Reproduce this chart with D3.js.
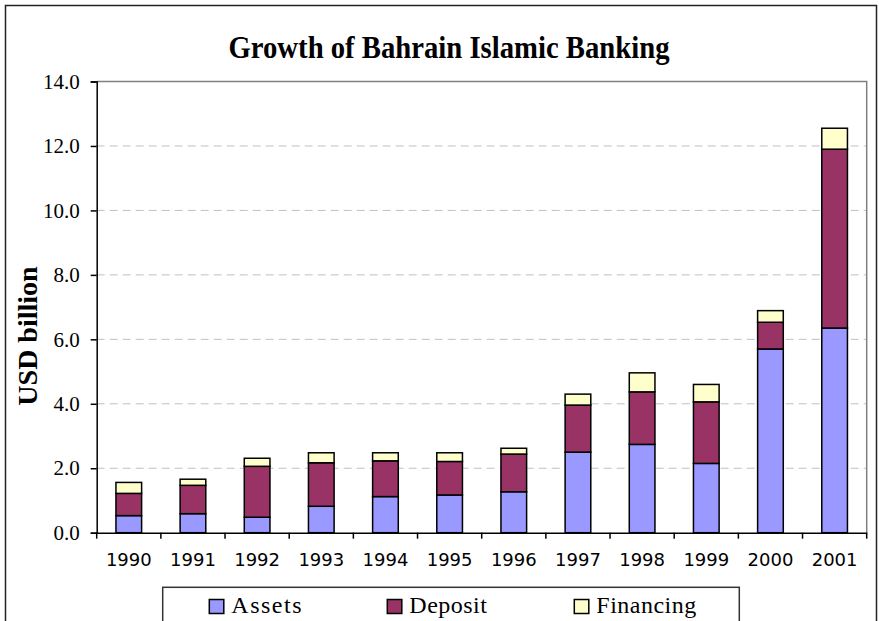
<!DOCTYPE html>
<html><head><meta charset="utf-8">
<script src="https://cdn.jsdelivr.net/npm/d3@7"></script>
<style>body{margin:0;background:#fff}svg{display:block}
.serif{font-family:"Liberation Serif","Times New Roman",Times,serif}
.sans{font-family:"DejaVu Sans",Verdana,sans-serif}
</style>
</head><body>
<svg id="c" width="879" height="621"></svg>
<script>
const years = ["1990","1991","1992","1993","1994","1995","1996","1997","1998","1999","2000","2001"];
const assets    = [0.53,0.59,0.48,0.82,1.12,1.17,1.27,2.50,2.74,2.15,5.70,6.35];
const deposit   = [0.69,0.88,1.58,1.35,1.11,1.04,1.17,1.46,1.63,1.91,0.83,5.55];
const financing = [0.34,0.19,0.25,0.31,0.25,0.27,0.18,0.34,0.59,0.54,0.36,0.65];
const seriesNames = ["Assets","Deposit","Financing"];
const seriesColors = ["#9999FF","#993366","#FFFFCC"];
const yTicks = [0,2,4,6,8,10,12,14];

const svg = d3.select("#c");
const m = {l:96.7, r:866.7, t:81.5, b:532.7};

svg.append("rect").attr("x",5.5).attr("y",5.5).attr("width",871).attr("height",640)
  .attr("fill","none").attr("stroke","#222").attr("stroke-width",1.5);

const x = d3.scaleBand().domain(years).range([m.l,m.r]).paddingInner(0.6).paddingOuter(0.3);
const y = d3.scaleLinear().domain([0,14]).range([m.b,m.t]);

svg.append("g").selectAll("line").data(yTicks.filter(d=>d>0&&d<14)).join("line")
  .attr("x1",m.l).attr("x2",m.r).attr("y1",d=>y(d)).attr("y2",d=>y(d))
  .attr("stroke","#c0c0c0").attr("stroke-width",1).attr("stroke-dasharray","8,5");

svg.append("path").attr("d",`M${m.l},${y(14)}H${m.r}V${m.b}`).attr("fill","none")
  .attr("stroke","#808080").attr("stroke-width",1.5);

const rows = years.map((yr,i)=>({year:yr, Assets:assets[i], Deposit:deposit[i], Financing:financing[i]}));
const stack = d3.stack().keys(seriesNames)(rows);
const g = svg.append("g");
stack.forEach((s,si)=>{
  g.append("g").selectAll("rect").data(s).join("rect")
    .attr("x",d=>x(d.data.year)).attr("width",x.bandwidth())
    .attr("y",d=>y(d[1])).attr("height",d=>y(d[0])-y(d[1]))
    .attr("fill",seriesColors[si]).attr("stroke","#000").attr("stroke-width",1.5);
});

const ya = svg.append("g").attr("transform",`translate(${m.l},0)`)
  .call(d3.axisLeft(y).tickValues(yTicks).tickFormat(d3.format(".1f")).tickSize(6).tickPadding(11));
ya.attr("font-family",null).attr("font-size",null).attr("class","serif");
ya.select(".domain").attr("stroke","#000").attr("stroke-width",1.5);
ya.selectAll(".tick line").attr("stroke","#000").attr("stroke-width",1.5);
ya.selectAll("text").style("font-size","21px").attr("fill","#000");

const xa = svg.append("g").attr("transform",`translate(0,${m.b})`)
  .call(d3.axisBottom(x).tickSize(0).tickPadding(21));
xa.attr("font-family",null).attr("font-size",null).attr("class","sans");
xa.select(".domain").attr("stroke","#000").attr("stroke-width",1.5);
xa.selectAll("text").style("font-size","18px").attr("fill","#000");
const bounds = years.map(yr=>x(yr)-x.step()*x.paddingInner()/2).concat([m.r]);
bounds[0]=m.l;
svg.append("g").selectAll("line").data(bounds).join("line")
  .attr("x1",d=>d).attr("x2",d=>d).attr("y1",m.b).attr("y2",m.b+6)
  .attr("stroke","#000").attr("stroke-width",1.5);

svg.append("text").attr("class","serif").attr("x",449).attr("y",58).attr("text-anchor","middle")
  .style("font-weight","bold").style("font-size","32px")
  .attr("textLength",441).attr("lengthAdjust","spacingAndGlyphs")
  .text("Growth of Bahrain Islamic Banking");

svg.append("text").attr("class","serif").attr("transform","translate(37,336) rotate(-90)").attr("text-anchor","middle")
  .style("font-weight","bold").style("font-size","28px")
  .text("USD billion");

const lg = svg.append("g");
lg.append("rect").attr("x",162.7).attr("y",587.3).attr("width",576.6).attr("height",60)
  .attr("fill","#fff").attr("stroke","#333").attr("stroke-width",1.5);
const lx = [209.3, 387.3, 574.3];
seriesNames.forEach((n,i)=>{
  lg.append("rect").attr("x",lx[i]).attr("y",599.5).attr("width",14.5).attr("height",14)
    .attr("fill",seriesColors[i]).attr("stroke","#000").attr("stroke-width",1.5);
  lg.append("text").attr("class","serif").attr("x",lx[i]+22).attr("y",612.7)
    .style("font-size","24px")
    .style("letter-spacing", i===0?"1.5px":"0.5px")
    .text(n);
});
</script>
</body></html>
